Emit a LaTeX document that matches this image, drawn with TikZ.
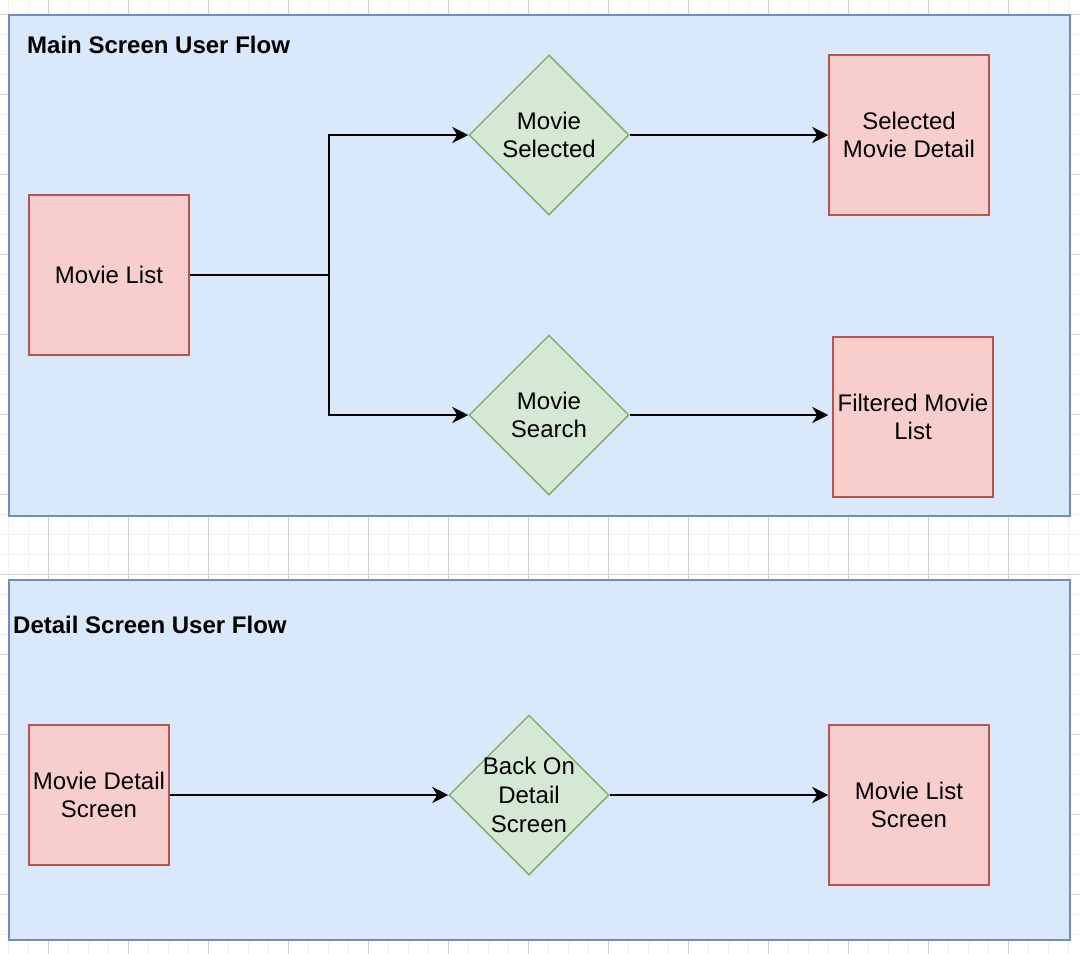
\documentclass[tikz,border=0pt]{standalone}
\usepackage{fontspec}
\setmainfont{Liberation Sans}
\usetikzlibrary{shapes.geometric,arrows.meta}
\definecolor{panelfill}{HTML}{DAE8FC}
\definecolor{panelline}{HTML}{6C8EBF}
\definecolor{redfill}{HTML}{F8CECC}
\definecolor{redline}{HTML}{B85450}
\definecolor{greenfill}{HTML}{D5E8D4}
\definecolor{greenline}{HTML}{82B366}
\definecolor{gridminor}{HTML}{F0F0F0}
\definecolor{gridmajor}{HTML}{D0D0D0}
\tikzset{
  panel/.style={draw=panelline, fill=panelfill, line width=1.5pt, rectangle, inner sep=0pt, anchor=north west},
  screenbox/.style={draw=redline, fill=redfill, line width=1.5pt, rectangle, inner sep=0pt, align=center,
    minimum width=160pt, minimum height=160pt, font=\fontsize{24}{28.8}\selectfont},
  decision/.style={draw=greenline, fill=greenfill, line width=1.5pt, diamond, inner sep=0pt,
    minimum width=160pt, minimum height=160pt},
  dlabel/.style={align=center, font=\fontsize{24}{28.8}\selectfont},
  paneltitle/.style={anchor=west, inner sep=0pt, font=\fontsize{24}{28.8}\selectfont\bfseries},
  arr/.style={line width=2pt, -{Stealth[length=16pt, width=16pt, inset=5pt]}},
}
\begin{document}
\begin{tikzpicture}[x=1pt,y=-1pt]
\useasboundingbox (0,0) rectangle (1080,954);
\fill[white] (0,0) rectangle (1080,954);
% grid
\foreach \x in {8,28,...,1068} \draw[gridminor, line width=1pt] (\x,0) -- (\x,954);
\foreach \y in {14,34,...,954} \draw[gridminor, line width=1pt] (0,\y) -- (1080,\y);
\foreach \x in {48,128,...,1048} \draw[gridmajor, line width=1pt] (\x,0) -- (\x,954);
\foreach \y in {14,94,...,954} \draw[gridmajor, line width=1pt] (0,\y) -- (1080,\y);
% panels
\node[panel, minimum width=1061pt, minimum height=501pt] (p1) at (8,14) {};
\node[panel, minimum width=1061pt, minimum height=360pt] (p2) at (8,579) {};
\node[paneltitle] (t1) at (27,45) {Main Screen User Flow};
\node[paneltitle] (t2) at (13,625) {Detail Screen User Flow};
% top flow
\node[screenbox] (ml) at (109,275) {Movie List};
\node[decision, label={[dlabel]center:Movie\\Selected}] (sel) at (549,135) {};
\node[screenbox] (det) at (909,135) {Selected\\Movie Detail};
\node[decision, label={[dlabel]center:Movie\\Search}] (sea) at (549,415) {};
\node[screenbox] (filt) at (913,417) {Filtered Movie\\List};
\coordinate (j) at (329,275);
\draw[arr] (ml.east) -- (j) |- (sel.west);
\draw[arr] (ml.east) -- (j) |- (sea.west);
\draw[arr] (sel.east) -- (det.west);
\draw[arr, shorten >=4pt] (sea.east) -- (sea.east -| filt.west);
% bottom flow
\node[screenbox, minimum width=140pt, minimum height=140pt] (mds) at (99,795) {Movie Detail\\Screen};
\node[decision, label={[dlabel]center:Back On\\Detail\\Screen}] (back) at (529,795) {};
\node[screenbox] (mls) at (909,805) {Movie List\\Screen};
\draw[arr] (mds.east) -- (back.west);
\draw[arr] (back.east) -- (back.east -| mls.west);
\end{tikzpicture}
\end{document}
